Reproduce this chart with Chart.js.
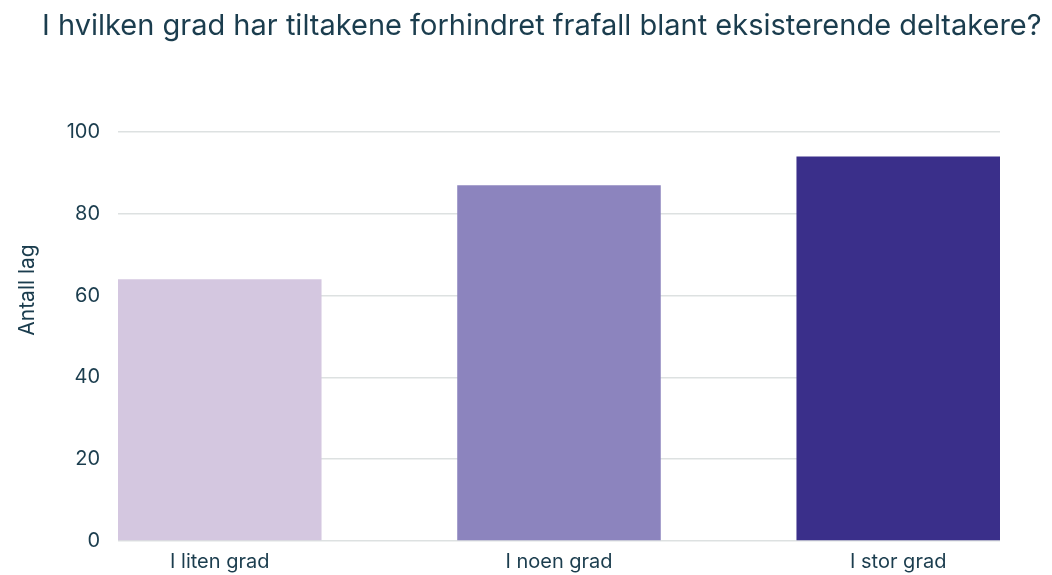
<!DOCTYPE html>
<html>
<head>
<meta charset="utf-8">
<script src="https://cdn.jsdelivr.net/npm/chart.js@4"></script>
<style>
  body { margin: 0; background: #fff; }
  #wrap { position: relative; width: 1052px; height: 575px; }
  #title {
    position: absolute; left: 42px; top: 7px; margin: 0;
    font-family: Inter, sans-serif; font-weight: 400; font-size: 29px;
    color: #1b3d4e; white-space: nowrap;
  }
  #ytitle {
    position: absolute; left: 27px; top: 290px; width: 140px; margin-left: -70px;
    line-height: 24px; margin-top: -12px; text-align: center;
    transform: rotate(-90deg);
    font-family: Inter, sans-serif; font-size: 21px; color: #1b3d4e;
  }
  canvas { position: absolute; left: 0; top: 0; }
</style>
</head>
<body>
<div id="wrap">
  <canvas id="chart" width="1052" height="575"></canvas>
  <h1 id="title">I hvilken grad har tiltakene forhindret frafall blant eksisterende deltakere?</h1>
  <div id="ytitle">Antall lag</div>
</div>
<script>
const categories = ['I liten grad', 'I noen grad', 'I stor grad'];
const values = [64, 87, 94];
const barColors = ['#d4c7e0', '#8c84be', '#3a2f8a'];
const yTicks = [0, 20, 40, 60, 80, 100];

const textColor = '#1b3d4e';
const gridColor = '#dde1e1';

// bars sit on a linear x scale so the first and last bar touch the plot edges
new Chart(document.getElementById('chart'), {
  type: 'bar',
  data: {
    datasets: [{
      data: values.map((v, i) => ({ x: i, y: v })),
      backgroundColor: barColors,
      borderWidth: 0,
      barPercentage: 0.6,
      categoryPercentage: 1
    }]
  },
  options: {
    responsive: false,
    animation: false,
    layout: { padding: { top: 132, right: 52, bottom: 0, left: 0 } },
    plugins: { legend: { display: false }, tooltip: { enabled: false } },
    scales: {
      x: {
        type: 'linear',
        offset: false,
        min: -0.3,
        max: 2.3,
        afterBuildTicks: scale => { scale.ticks = categories.map((c, i) => ({ value: i })); },
        afterFit: scale => { scale.height = 34; },
        ticks: {
          color: textColor,
          font: { family: 'Inter', size: 20 },
          padding: 1,
          callback: v => categories[v]
        },
        grid: { display: false, offset: false },
        border: { display: false }
      },
      y: {
        min: 0,
        max: 100,
        afterBuildTicks: scale => { scale.ticks = yTicks.map(v => ({ value: v })); },
        afterFit: scale => { scale.width = 118; },
        ticks: {
          color: textColor,
          font: { family: 'Inter', size: 20 },
          padding: 18
        },
        grid: { color: gridColor, lineWidth: 1.5, drawTicks: false },
        border: { display: false }
      }
    }
  }
});
</script>
</body>
</html>
